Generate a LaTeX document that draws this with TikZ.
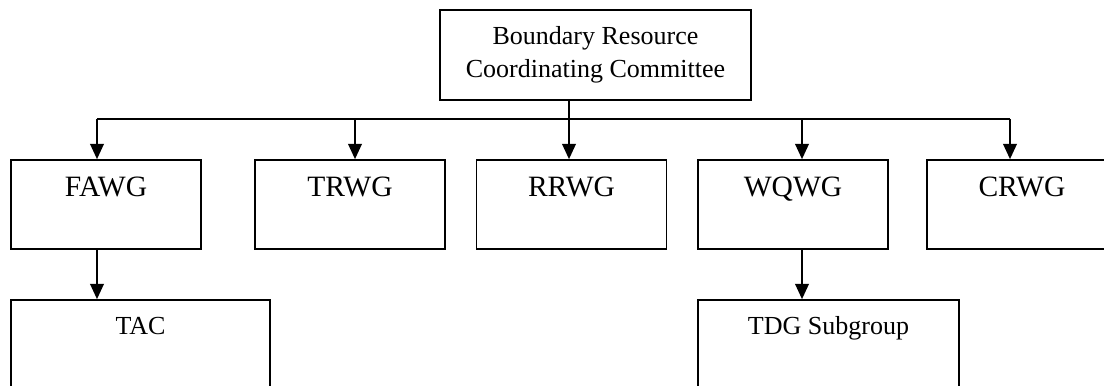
\documentclass[tikz,border=0pt]{standalone}
\usepackage{fontspec}
\setmainfont{Liberation Serif}
\usetikzlibrary{arrows.meta}
\usetikzlibrary{positioning}

\begin{document}
\begin{tikzpicture}[x=0.025cm, y=-0.025cm]
            \tikzset{every node/.style={rectangle, draw, line width=1.2pt, inner sep=0pt},
                    >={Triangle[length=0.38cm, width=0.34cm]},
                    every edge/.style={draw=black, line width=1.2pt},
                    group/.style={minimum width=4.75cm, text height=0.925cm, text depth=1.3cm,
                                  font=\fontsize{21}{25}\selectfont},
                    sub/.style={text height=0.875cm, text depth=2.125cm,
                                font=\fontsize{18.5}{22}\selectfont}}
            \path[use as bounding box, clip] (0,0) rectangle (1104,386);
            \node[minimum width=7.775cm, minimum height=2.25cm, align=center,
                  font=\fontsize{18.5}{23.5}\selectfont] (top) at (595.5,55) {Boundary Resource\\Coordinating Committee};
            \node[group] (fawg) at (106,204.5) {FAWG};
            \node[group] (trwg) at (350,204.5) {TRWG};
            \node[group] (rrwg) at (571.5,204.5) {RRWG};
            \node[group] (wqwg) at (793,204.5) {WQWG};
            \node[group] (crwg) at (1022,204.5) {CRWG};
            \node[sub, minimum width=6.475cm] (tac) at (140.5,360) {TAC};
            \node[sub, minimum width=6.525cm] (tdg) at (828.5,360) {TDG Subgroup};
            \coordinate (bus) at (0,119);
            \coordinate (fawgin) at ([xshift=-0.225cm]fawg.north);
            \coordinate (trwgin) at ([xshift=0.125cm]trwg.north);
            \coordinate (rrwgin) at ([xshift=-0.0625cm]rrwg.north);
            \coordinate (wqwgin) at ([xshift=0.225cm]wqwg.north);
            \coordinate (crwgin) at ([xshift=-0.3cm]crwg.north);
            \draw[line width=1.2pt] (fawgin |- bus) -- (crwgin |- bus);
            \path [->] (top.south -| rrwgin) edge (rrwgin);
            \foreach \g in {fawgin, trwgin, wqwgin, crwgin}
                \path [->] (\g |- bus) edge (\g);
            \path [->] (fawgin |- fawg.south) edge (fawgin |- tac.north);
            \path [->] (wqwgin |- wqwg.south) edge (wqwgin |- tdg.north);
        \end{tikzpicture}
\end{document}
